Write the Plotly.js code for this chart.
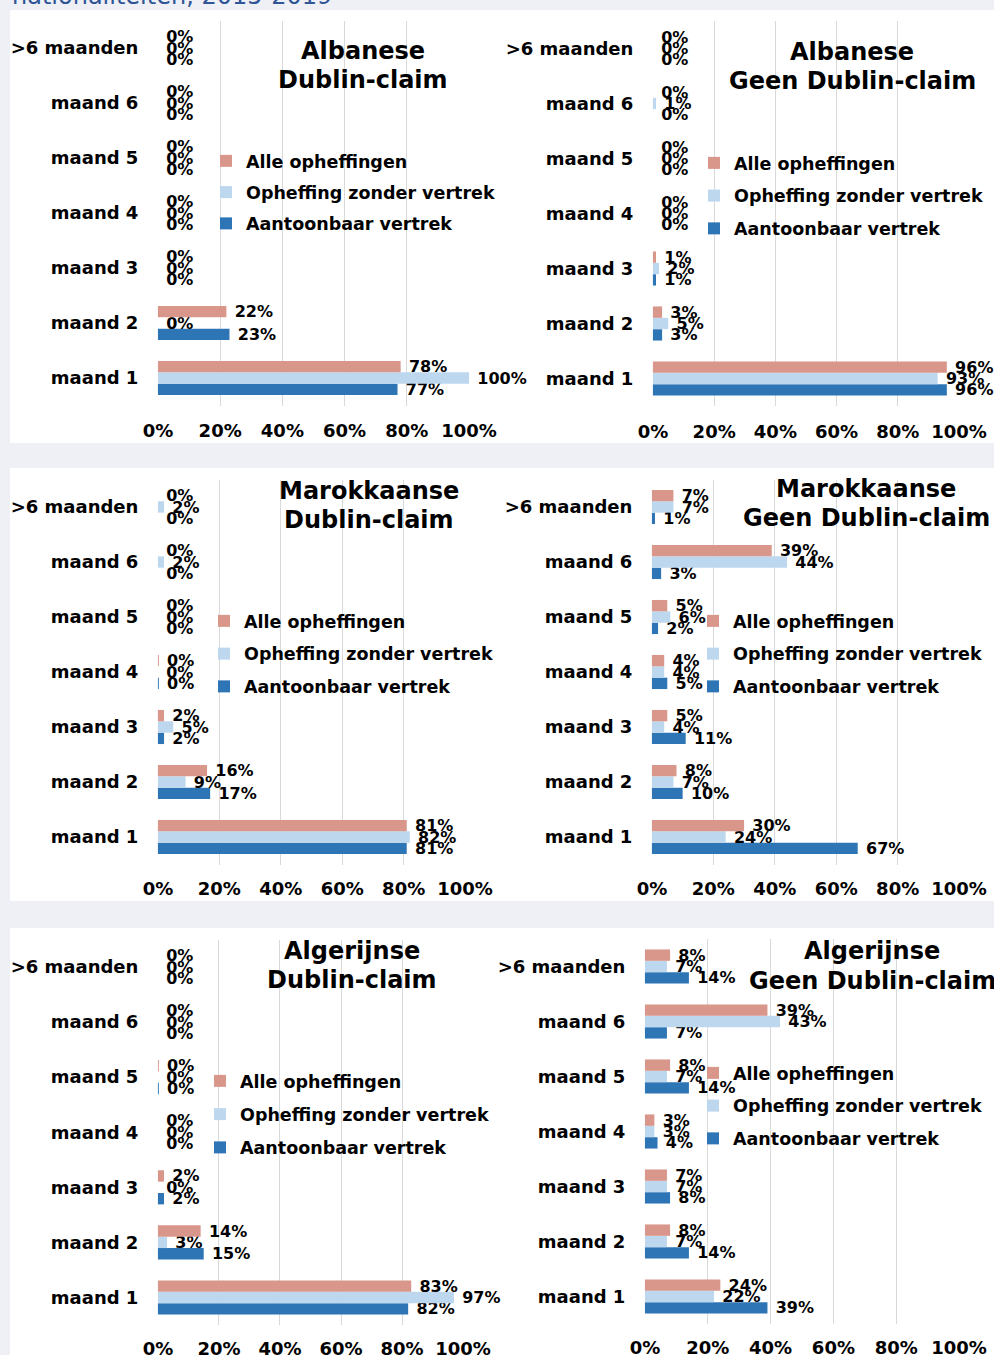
<!DOCTYPE html>
<html>
<head>
<meta charset="utf-8">
<script src="https://cdn.plot.ly/plotly-3.0.1.min.js"></script>
<style>
  html, body { margin: 0; padding: 0; background: #eef0f5; overflow: hidden; }
</style>
</head>
<body>
<div id="chart"></div>
<script>
// ---------- data ----------
const categories = ['maand 1', 'maand 2', 'maand 3', 'maand 4', 'maand 5', 'maand 6', '>6 maanden'];
const seriesNames = ['Alle opheffingen', 'Opheffing zonder vertrek', 'Aantoonbaar vertrek'];
const xTickValues = [0, 20, 40, 60, 80, 100];
const xTickLabels = ['0%', '20%', '40%', '60%', '80%', '100%'];

const albDublinAlle    = [78, 22, 0, 0, 0, 0, 0];
const albDublinZonder  = [100, 0, 0, 0, 0, 0, 0];
const albDublinVertrek = [77, 23, 0, 0, 0, 0, 0];

const albGeenAlle    = [96, 3, 1, 0, 0, 0, 0];
const albGeenZonder  = [93, 5, 2, 0, 0, 1, 0];
const albGeenVertrek = [96, 3, 1, 0, 0, 0, 0];

const marDublinAlle    = [81, 16, 2, 0.3, 0, 0, 0];
const marDublinZonder  = [82, 9, 5, 0, 0, 2, 2];
const marDublinVertrek = [81, 17, 2, 0.3, 0, 0, 0];

const marGeenAlle    = [30, 8, 5, 4, 5, 39, 7];
const marGeenZonder  = [24, 7, 4, 4, 6, 44, 7];
const marGeenVertrek = [67, 10, 11, 5, 2, 3, 1];

const algDublinAlle    = [83, 14, 2, 0, 0.3, 0, 0];
const algDublinZonder  = [97, 3, 0, 0, 0, 0, 0];
const algDublinVertrek = [82, 15, 2, 0, 0.3, 0, 0];

const algGeenAlle    = [24, 8, 7, 3, 8, 39, 8];
const algGeenZonder  = [22, 7, 7, 3, 7, 43, 7];
const algGeenVertrek = [39, 14, 8, 4, 14, 7, 14];

const panelTitles = [
  ['Albanese', 'Dublin-claim'],
  ['Albanese', 'Geen Dublin-claim'],
  ['Marokkaanse', 'Dublin-claim'],
  ['Marokkaanse', 'Geen Dublin-claim'],
  ['Algerijnse', 'Dublin-claim'],
  ['Algerijnse', 'Geen Dublin-claim']
];
const panelData = [
  [albDublinAlle, albDublinZonder, albDublinVertrek],
  [albGeenAlle, albGeenZonder, albGeenVertrek],
  [marDublinAlle, marDublinZonder, marDublinVertrek],
  [marGeenAlle, marGeenZonder, marGeenVertrek],
  [algDublinAlle, algDublinZonder, algDublinVertrek],
  [algGeenAlle, algGeenZonder, algGeenVertrek]
];

// ---------- layout geometry (pixels) ----------
const W = 994, H = 1355;
const px = x => x / W;
const py = y => 1 - y / H;
const colors = ['#d9968a', '#bdd7ee', '#2e75b6'];
const FONT = 'DejaVu Sans';

const geom = [
  {x: [157, 470], y: [20.5, 405.5], t: [363, 51, 80],  lg: [246, 159], gap: 5.5, tl: 9},
  {x: [652, 960], y: [21, 406],     t: [852, 52, 81],  lg: [734, 161], gap: 7, tl: 9},
  {x: [157, 466], y: [479.5, 864.5], t: [369, 491, 520], lg: [244, 619], gap: 7, tl: 8},
  {x: [651, 960], y: [479.5, 864.5], t: [866, 489, 518], lg: [733, 619], gap: 7, tl: 8},
  {x: [157, 464], y: [939.5, 1325], t: [352, 951, 980], lg: [240, 1079], gap: 7.5, tl: 7},
  {x: [644, 960], y: [939, 1324],   t: [872, 951, 981], lg: [733, 1071], gap: 7, tl: 7}
];

const traces = [];
const layout = {
  width: W, height: H,
  autosize: false,
  margin: {l: 0, r: 0, t: 0, b: 0},
  paper_bgcolor: '#eef0f5',
  plot_bgcolor: 'rgba(0,0,0,0)',
  barmode: 'group',
  bargap: 0.38,
  bargroupgap: 0,
  showlegend: true,
  hovermode: false,
  font: {family: FONT, color: '#000'},
  shapes: [
    {type: 'rect', xref: 'paper', yref: 'paper', x0: px(10), x1: px(994), y0: py(443), y1: py(10), fillcolor: '#ffffff', line: {width: 0}, layer: 'below'},
    {type: 'rect', xref: 'paper', yref: 'paper', x0: px(10), x1: px(994), y0: py(901), y1: py(468), fillcolor: '#ffffff', line: {width: 0}, layer: 'below'},
    {type: 'rect', xref: 'paper', yref: 'paper', x0: px(10), x1: px(994), y0: py(1355), y1: py(928), fillcolor: '#ffffff', line: {width: 0}, layer: 'below'}
  ],
  annotations: [
    {text: 'nationaliteiten, 2015-2019', xref: 'paper', yref: 'paper', x: px(10), y: py(12), xanchor: 'left', yanchor: 'bottom', showarrow: false, font: {family: FONT, size: 24, color: '#2f5597'}}
  ]
};

for (let p = 0; p < 6; p++) {
  const g = geom[p];
  const n = p + 1;
  const xa = 'x' + (p === 0 ? '' : n);
  const ya = 'y' + (p === 0 ? '' : n);
  const lgName = 'legend' + (p === 0 ? '' : n);
  // bottom-to-top order inside each group: vertrek, zonder, alle
  [2, 1, 0].forEach(s => {
    traces.push({
      type: 'bar',
      orientation: 'h',
      name: seriesNames[s],
      y: categories,
      x: panelData[p][s],
      xaxis: xa, yaxis: ya,
      legend: lgName,
      legendgroup: 'g' + p + '_' + s,
      legendrank: s + 1,
      marker: {color: colors[s], line: {width: 0}},
      texttemplate: '\u2004%{x:.0f}%',
      textposition: 'outside',
      constraintext: 'none',
      cliponaxis: false,
      outsidetextfont: {family: FONT, size: 16, color: '#000', weight: 'bold'}
    });
  });
  layout['xaxis' + (p === 0 ? '' : n)] = {
    domain: [px(g.x[0]), px(g.x[1])],
    anchor: ya,
    range: [-0.3, 100.3],
    tickmode: 'array',
    tickvals: xTickValues,
    ticktext: xTickLabels,
    showgrid: true, gridcolor: '#d9d9d9', gridwidth: 1,
    zeroline: false, showline: false,
    ticks: 'outside', ticklen: g.tl, tickcolor: 'rgba(0,0,0,0)',
    tickfont: {family: FONT, size: 18, color: '#000', weight: 'bold'},
    automargin: false,
    fixedrange: true
  };
  layout['yaxis' + (p === 0 ? '' : n)] = {
    domain: [py(g.y[1]), py(g.y[0])],
    anchor: xa,
    type: 'category',
    categoryorder: 'array',
    categoryarray: categories,
    showgrid: false, zeroline: false, showline: false,
    ticks: 'outside', ticklen: 14, tickcolor: 'rgba(0,0,0,0)',
    tickfont: {family: FONT, size: 18, color: '#000', weight: 'bold'},
    automargin: false,
    fixedrange: true
  };
  layout[lgName] = {
    x: px(g.lg[0] - 40), y: py(g.lg[1] - 16),
    xanchor: 'left', yanchor: 'top',
    bgcolor: 'rgba(0,0,0,0)', borderwidth: 0,
    tracegroupgap: g.gap,
    font: {family: FONT, size: 17.5, color: '#000', weight: 'bold'}
  };
  layout.annotations.push(
    {text: '<b>' + panelTitles[p][0] + '</b>', xref: 'paper', yref: 'paper', x: px(g.t[0]), y: py(g.t[1]), xanchor: 'center', yanchor: 'middle', showarrow: false, font: {family: FONT, size: 24, color: '#000'}},
    {text: '<b>' + panelTitles[p][1] + '</b>', xref: 'paper', yref: 'paper', x: px(g.t[0]), y: py(g.t[2]), xanchor: 'center', yanchor: 'middle', showarrow: false, font: {family: FONT, size: 24, color: '#000'}}
  );
}

Plotly.newPlot('chart', traces, layout, {displayModeBar: false, staticPlot: true});
</script>
</body>
</html>
